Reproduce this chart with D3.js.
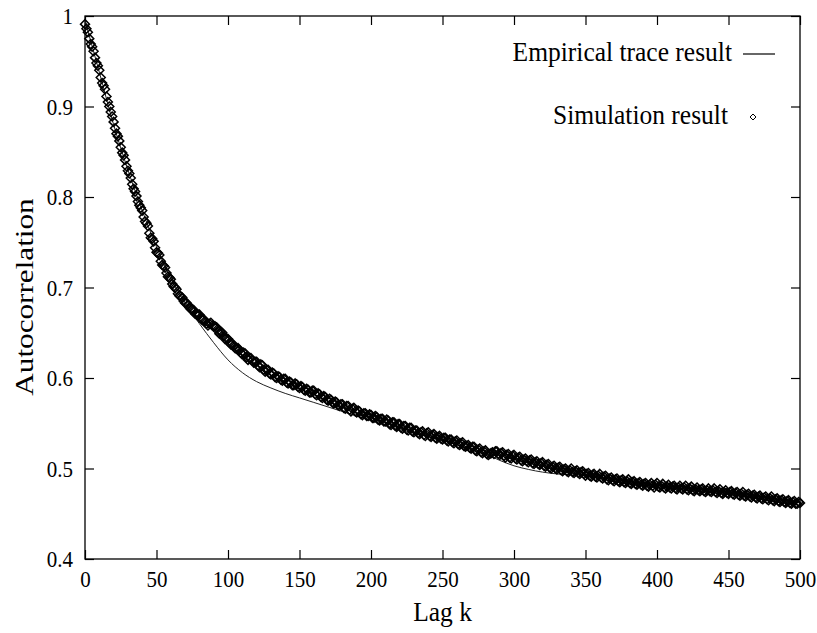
<!doctype html>
<html>
  <head>
    <meta charset="utf-8">
    <title>Autocorrelation vs lag</title>
    <script src="https://cdnjs.cloudflare.com/ajax/libs/d3/7.8.5/d3.min.js"></script>
    <style>
      body { margin: 0; background: #fff; }
      text { font-family: "Liberation Serif", "Times New Roman", serif; fill: #000; }
    </style>
  </head>
  <body>
    <div id="chart"></div>
    <script>
      // lags are sampled every 10 for the trace, every 1 for the simulation
      const traceStep = 10;
      const simStep = 1;

      // empirical trace result (lag 0..500, step 10)
      const traceValues = [
        0.995, 0.938, 0.880, 0.830, 0.785, 0.745, 0.710, 0.683, 0.660, 0.639,
        0.620, 0.606, 0.596, 0.589, 0.583, 0.578, 0.573, 0.568, 0.563, 0.558,
        0.553, 0.548, 0.543, 0.539, 0.535, 0.531, 0.526, 0.521, 0.516, 0.509,
        0.503, 0.499, 0.496, 0.494, 0.493, 0.492, 0.490, 0.488, 0.486, 0.483,
        0.481, 0.480, 0.479, 0.477, 0.476, 0.474, 0.472, 0.469, 0.467, 0.465,
        0.463
      ];

      // simulation result (lag 0..500, one row = 10 lags)
      const simValues = [
        0.991, 0.986, 0.982, 0.975, 0.969, 0.966, 0.961, 0.954, 0.948, 0.945,
        0.940, 0.932, 0.926, 0.923, 0.919, 0.911, 0.905, 0.900, 0.894, 0.889,
        0.883, 0.876, 0.870, 0.867, 0.862, 0.855, 0.849, 0.846, 0.841, 0.834,
        0.829, 0.826, 0.821, 0.814, 0.809, 0.806, 0.801, 0.795, 0.791, 0.788,
        0.785, 0.778, 0.773, 0.771, 0.768, 0.760, 0.755, 0.754, 0.751, 0.744,
        0.739, 0.738, 0.736, 0.729, 0.725, 0.724, 0.722, 0.716, 0.712, 0.711,
        0.709, 0.704, 0.701, 0.700, 0.698, 0.693, 0.691, 0.690, 0.689, 0.685,
        0.683, 0.683, 0.681, 0.678, 0.676, 0.676, 0.675, 0.671, 0.670, 0.670,
        0.670, 0.666, 0.664, 0.665, 0.663, 0.660, 0.658, 0.660, 0.661, 0.658,
        0.657, 0.657, 0.656, 0.652, 0.649, 0.651, 0.650, 0.646, 0.643, 0.644,
        0.643, 0.639, 0.637, 0.638, 0.636, 0.633, 0.632, 0.633, 0.631, 0.628,
        0.626, 0.628, 0.627, 0.623, 0.620, 0.622, 0.622, 0.619, 0.617, 0.618,
        0.618, 0.614, 0.612, 0.615, 0.614, 0.609, 0.607, 0.609, 0.609, 0.605,
        0.604, 0.606, 0.605, 0.601, 0.600, 0.602, 0.601, 0.598, 0.597, 0.599,
        0.599, 0.595, 0.594, 0.596, 0.595, 0.592, 0.592, 0.594, 0.593, 0.590,
        0.589, 0.591, 0.590, 0.587, 0.586, 0.588, 0.587, 0.584, 0.584, 0.586,
        0.586, 0.582, 0.581, 0.583, 0.582, 0.579, 0.578, 0.580, 0.579, 0.576,
        0.575, 0.577, 0.576, 0.573, 0.572, 0.574, 0.573, 0.570, 0.569, 0.571,
        0.571, 0.567, 0.566, 0.569, 0.569, 0.565, 0.563, 0.566, 0.567, 0.563,
        0.562, 0.564, 0.563, 0.560, 0.559, 0.561, 0.561, 0.558, 0.558, 0.560,
        0.559, 0.556, 0.556, 0.558, 0.557, 0.554, 0.553, 0.555, 0.555, 0.552,
        0.552, 0.554, 0.553, 0.549, 0.548, 0.551, 0.551, 0.547, 0.546, 0.549,
        0.549, 0.545, 0.544, 0.547, 0.547, 0.543, 0.542, 0.545, 0.545, 0.541,
        0.540, 0.542, 0.542, 0.539, 0.538, 0.540, 0.541, 0.537, 0.536, 0.539,
        0.540, 0.536, 0.535, 0.537, 0.538, 0.534, 0.533, 0.535, 0.536, 0.533,
        0.532, 0.534, 0.534, 0.531, 0.530, 0.532, 0.532, 0.529, 0.528, 0.530,
        0.531, 0.527, 0.526, 0.528, 0.529, 0.525, 0.524, 0.525, 0.526, 0.523,
        0.522, 0.524, 0.524, 0.520, 0.519, 0.521, 0.522, 0.518, 0.517, 0.519,
        0.520, 0.516, 0.515, 0.516, 0.517, 0.518, 0.516, 0.519, 0.519, 0.516,
        0.515, 0.517, 0.518, 0.514, 0.512, 0.515, 0.516, 0.512, 0.511, 0.514,
        0.515, 0.511, 0.510, 0.512, 0.513, 0.509, 0.508, 0.510, 0.511, 0.508,
        0.507, 0.509, 0.510, 0.506, 0.505, 0.507, 0.508, 0.505, 0.504, 0.506,
        0.507, 0.503, 0.502, 0.504, 0.505, 0.501, 0.500, 0.502, 0.503, 0.500,
        0.499, 0.501, 0.502, 0.498, 0.497, 0.499, 0.500, 0.497, 0.496, 0.498,
        0.500, 0.496, 0.495, 0.497, 0.498, 0.495, 0.494, 0.496, 0.497, 0.494,
        0.492, 0.494, 0.495, 0.492, 0.491, 0.493, 0.494, 0.491, 0.490, 0.492,
        0.494, 0.490, 0.489, 0.491, 0.492, 0.488, 0.487, 0.489, 0.490, 0.487,
        0.486, 0.488, 0.489, 0.486, 0.485, 0.487, 0.488, 0.485, 0.484, 0.486,
        0.488, 0.484, 0.483, 0.485, 0.486, 0.483, 0.482, 0.484, 0.485, 0.482,
        0.481, 0.483, 0.484, 0.481, 0.480, 0.482, 0.484, 0.481, 0.479, 0.482,
        0.484, 0.480, 0.479, 0.481, 0.483, 0.479, 0.478, 0.480, 0.482, 0.479,
        0.478, 0.480, 0.481, 0.478, 0.477, 0.479, 0.481, 0.478, 0.477, 0.479,
        0.481, 0.477, 0.476, 0.478, 0.480, 0.476, 0.475, 0.477, 0.479, 0.476,
        0.475, 0.477, 0.478, 0.475, 0.474, 0.476, 0.478, 0.475, 0.474, 0.476,
        0.478, 0.474, 0.473, 0.475, 0.477, 0.473, 0.472, 0.474, 0.476, 0.473,
        0.472, 0.474, 0.475, 0.472, 0.471, 0.473, 0.474, 0.471, 0.470, 0.472,
        0.474, 0.470, 0.469, 0.471, 0.472, 0.469, 0.468, 0.470, 0.471, 0.468,
        0.467, 0.469, 0.470, 0.467, 0.466, 0.468, 0.469, 0.466, 0.465, 0.467,
        0.469, 0.465, 0.464, 0.466, 0.467, 0.464, 0.463, 0.465, 0.466, 0.463,
        0.462, 0.464, 0.465, 0.462, 0.461, 0.463, 0.464, 0.461, 0.461, 0.463,
        0.462
      ];

      const xTicks = [0, 50, 100, 150, 200, 250, 300, 350, 400, 450, 500];
      const yTicks = [0.4, 0.5, 0.6, 0.7, 0.8, 0.9, 1];

      const width = 817, height = 633;
      const margin = {top: 16, right: 17, bottom: 74, left: 85};

      const svg = d3.select('#chart')
        .append('svg')
        .attr('width', width)
        .attr('height', height);

      const x = d3.scaleLinear().domain([0, 500]).range([margin.left, width - margin.right]);
      const y = d3.scaleLinear().domain([0.4, 1]).range([height - margin.bottom, margin.top]);

      const tickLen = 9;
      const stretch = 'scale(1,1.1)';

      // axes, ticks pointing inward
      const bottom = svg.append('g')
        .attr('transform', `translate(0,${y(0.4)})`)
        .call(d3.axisBottom(x).tickValues(xTicks).tickSize(-tickLen).tickPadding(0).tickFormat(d3.format('d')));
      const left = svg.append('g')
        .attr('transform', `translate(${x(0)},0)`)
        .call(d3.axisLeft(y).tickValues(yTicks).tickSize(-tickLen).tickFormat(d => d === 1 ? '1' : d.toFixed(1)));
      svg.append('g')
        .attr('transform', `translate(0,${y(1)})`)
        .call(d3.axisTop(x).tickValues(xTicks).tickSize(-tickLen).tickFormat(''));
      svg.append('g')
        .attr('transform', `translate(${x(500)},0)`)
        .call(d3.axisRight(y).tickValues(yTicks).tickSize(-tickLen).tickFormat(''));

      svg.selectAll('.domain').remove();
      svg.selectAll('.tick line').attr('stroke', '#000').attr('stroke-width', 1.2);

      bottom.selectAll('.tick text')
        .attr('y', 0)
        .attr('dy', 0)
        .attr('transform', 'translate(0,28) ' + stretch)
        .style('font-size', '21px');
      left.selectAll('.tick text')
        .attr('x', 0)
        .attr('dy', 0)
        .attr('transform', 'translate(-12,7.5) ' + stretch)
        .style('font-size', '21px');

      // frame
      svg.append('rect')
        .attr('x', x(0))
        .attr('y', y(1))
        .attr('width', x(500) - x(0))
        .attr('height', y(0.4) - y(1))
        .attr('fill', 'none')
        .attr('stroke', '#000')
        .attr('stroke-width', 1.3);

      // empirical trace line
      const line = d3.line()
        .x((d, i) => x(i * traceStep))
        .y(d => y(d))
        .curve(d3.curveMonotoneX);

      svg.append('path')
        .datum(traceValues)
        .attr('d', line)
        .attr('fill', 'none')
        .attr('stroke', '#222')
        .attr('stroke-width', 1);

      // simulation diamonds
      const diamond = 'M0,-4.5L4.5,0L0,4.5L-4.5,0Z';
      svg.append('g')
        .selectAll('path')
        .data(simValues)
        .join('path')
        .attr('d', diamond)
        .attr('transform', (d, i) => `translate(${x(i * simStep)},${y(d)})`)
        .attr('fill', 'none')
        .attr('stroke', '#000')
        .attr('stroke-width', 1.5);

      // axis titles
      svg.append('text')
        .attr('transform', `translate(${(x(0) + x(500)) / 2},621) ${stretch}`)
        .attr('text-anchor', 'middle')
        .style('font-size', '25.5px')
        .text('Lag k');

      svg.append('text')
        .attr('transform', `translate(33,297) rotate(-90) scale(1.2,1)`)
        .attr('text-anchor', 'middle')
        .style('font-size', '26px')
        .text('Autocorrelation');

      // legend
      const legend = svg.append('g');
      legend.append('text')
        .attr('transform', `translate(732,61) ${stretch}`)
        .attr('text-anchor', 'end')
        .style('font-size', '25.5px')
        .text('Empirical trace result');
      legend.append('line')
        .attr('x1', 743).attr('x2', 775)
        .attr('y1', 54).attr('y2', 54)
        .attr('stroke', '#000')
        .attr('stroke-width', 1.2);
      legend.append('text')
        .attr('transform', `translate(728,124) ${stretch}`)
        .attr('text-anchor', 'end')
        .style('font-size', '25.5px')
        .text('Simulation result');
      legend.append('path')
        .attr('d', 'M0,-3L3,0L0,3L-3,0Z')
        .attr('transform', 'translate(753,117)')
        .attr('fill', 'none')
        .attr('stroke', '#000')
        .attr('stroke-width', 1);
    </script>
  </body>
</html>
